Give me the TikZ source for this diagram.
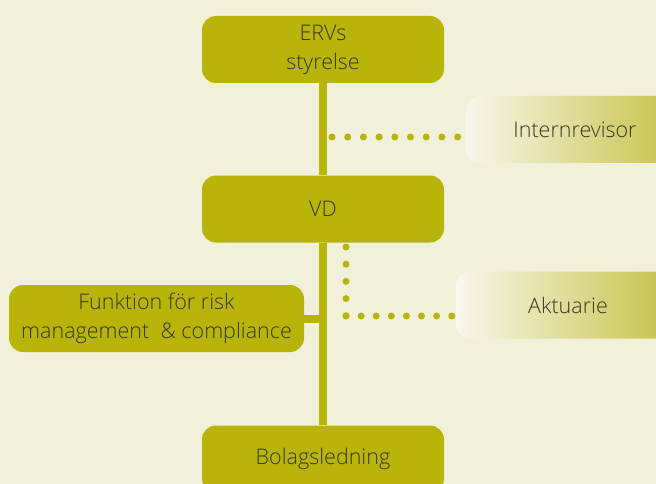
\documentclass[tikz,border=0pt]{standalone}
\usepackage{fontspec}
\setmainfont{Open Sans Light}
\definecolor{paper}{HTML}{F1F0D9}
\definecolor{moss}{HTML}{B8B40A}
\definecolor{ink}{HTML}{38371F}
\definecolor{fade}{HTML}{F8F7EC}
\definecolor{tint}{HTML}{C4C041}
\tikzset{
  unit/.style={fill=moss, text=ink, rounded corners=14pt, minimum width=242pt,
    minimum height=67pt, align=center, font=\fontsize{21.5}{29}\selectfont},
  side/.style={left color=fade, right color=tint, text=ink, rounded corners=14pt,
    minimum width=218pt, minimum height=67pt, font=\fontsize{21.5}{29}\selectfont},
  trunk/.style={draw=moss, line width=8pt},
  dots/.style={draw=moss, line width=7pt, line cap=round}
}
\begin{document}
\begin{tikzpicture}[x=1pt,y=-1pt]
      \fill[paper] (0,0) rectangle (656,484);
      \useasboundingbox (0,0) rectangle (656,484);
      \draw
        (323,49.5) node[unit] (board){ERVs\\styrelse}
        (323,209) node[unit] (vd){VD}
        (156.5,318.5) node[unit, minimum width=295pt] (risk){Funktion för risk\\management\ \ \& compliance}
        (323,459) node[unit] (mgmt){Bolagsledning}
        (575,129.5) node[side] (audit){Internrevisor}
        (568,305) node[side, minimum width=224pt] (actuary){Aktuarie};
      \coordinate (auditfrom) at (332,137);
      \coordinate (auditto) at (458,137);
      \coordinate (actfrom) at (346,247);
      \coordinate (actbend) at (346,316);
      \coordinate (actto) at (452,316);
      \begin{scope}[trunk]
        \draw (board.south) to (vd.north);
        \draw (vd.south) to (mgmt.north);
        \draw (risk.east) to (risk.east -| vd.south);
      \end{scope}
      \begin{scope}[dots]
        \draw[dash pattern=on 0pt off 15.7pt] (auditfrom) to (auditto);
        \draw[dash pattern=on 0pt off 17.2pt] (actfrom) to (actbend);
        \draw[dash pattern=on 0pt off 15.1pt] (actbend) to (actto);
      \end{scope}
    \end{tikzpicture}
\end{document}
